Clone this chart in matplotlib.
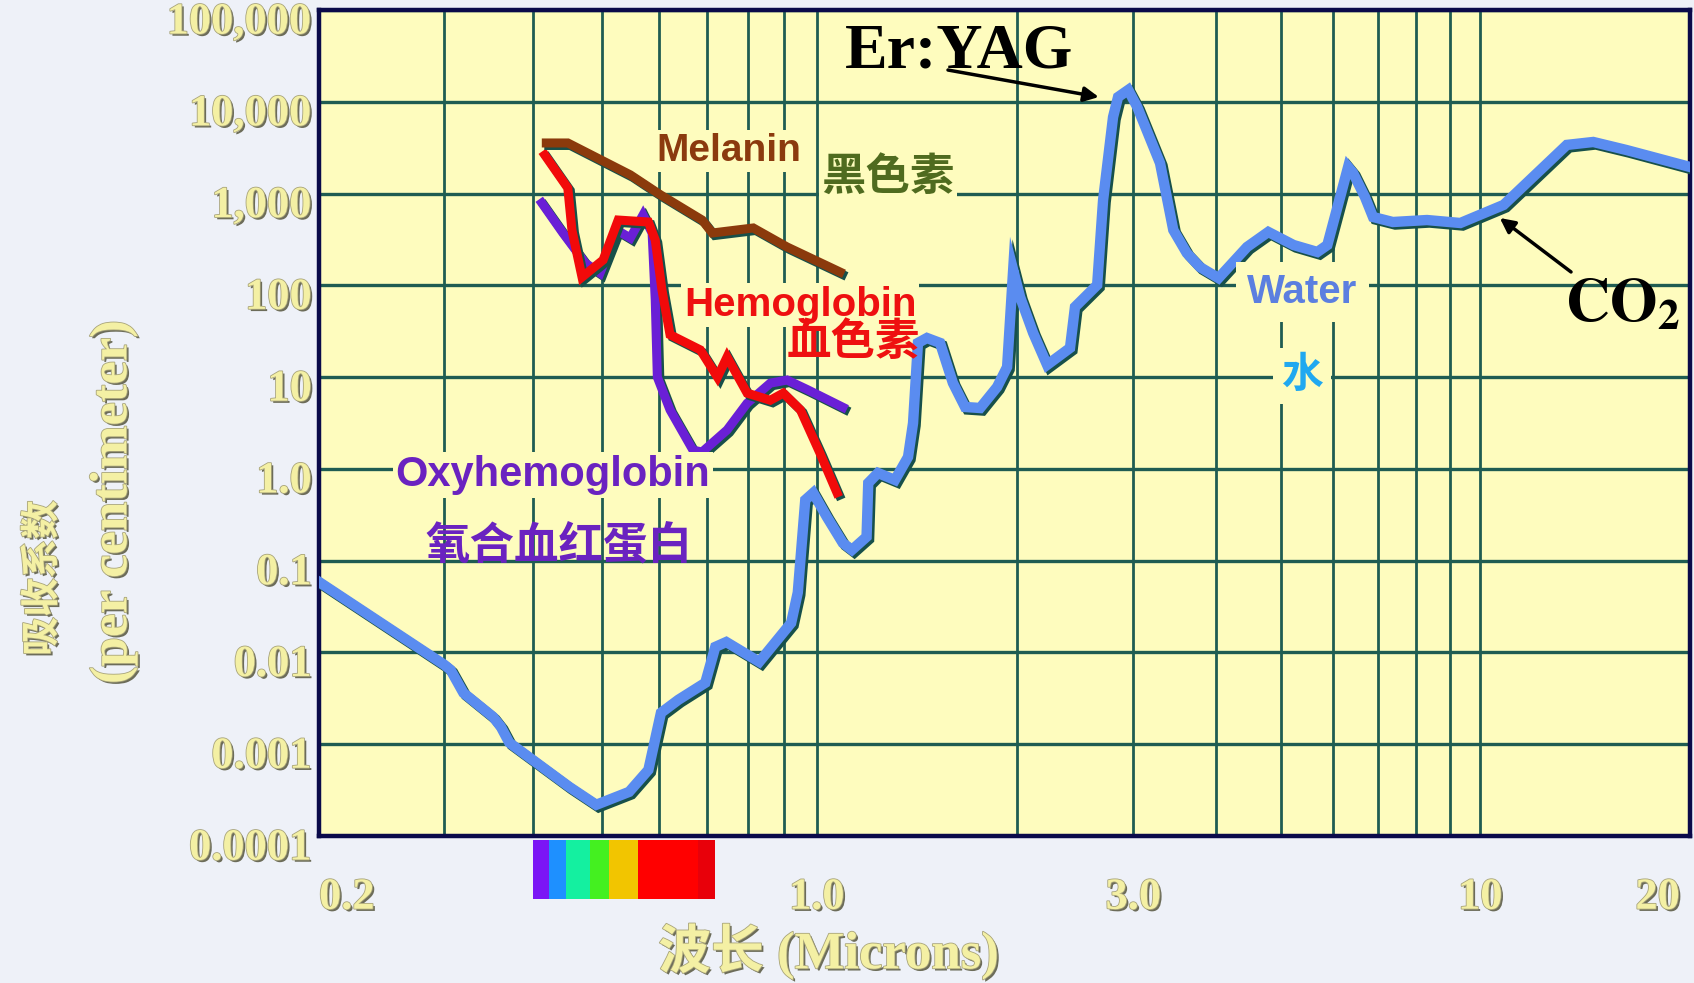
import numpy as np
import matplotlib.pyplot as plt
import matplotlib.patheffects as pe
from matplotlib.transforms import ScaledTranslation

plt.rcParams['mathtext.fontset'] = 'stix'

# absorption coefficient (per cm) vs wavelength (microns)
water_wl = [0.200, 0.300, 0.306, 0.319, 0.351, 0.360, 0.370, 0.449, 0.490, 0.545,
            0.580, 0.604, 0.639, 0.697, 0.720, 0.746, 0.830, 0.920, 0.940, 0.963,
            0.988, 1.035, 1.094, 1.129, 1.188, 1.195, 1.236, 1.311, 1.372, 1.396,
            1.420, 1.465, 1.533, 1.603, 1.672, 1.762, 1.869, 1.935, 1.976, 2.024,
            2.118, 2.223, 2.407, 2.449, 2.645, 2.700, 2.795, 2.844, 2.946, 3.04,
            3.29, 3.445, 3.61, 3.78, 4.03, 4.45, 4.79, 5.23, 5.68, 5.88,
            6.32, 6.43, 6.70, 6.89, 7.38, 8.31, 9.33, 10.84, 13.5, 14.8,
            16.6, 20.7]
water_abs = [0.0587, 0.00733, 0.00646, 0.00363, 0.00199, 0.00155, 0.00104, 0.000344, 0.000219, 0.000303,
             0.000526, 0.0022, 0.00305, 0.00467, 0.0115, 0.0130, 0.0079, 0.021, 0.045, 0.459,
             0.548, 0.300, 0.156, 0.131, 0.182, 0.703, 0.903, 0.758, 1.35, 3.16,
             23.6, 26.7, 23.6, 8.65, 4.73, 4.61, 7.81, 12.9, 147, 74.8,
             30.3, 13.6, 20.8, 58.2, 101, 851, 6820, 11270, 13460, 8770,
             2150, 401, 225, 158, 120, 262, 382, 275, 231, 275,
             1950, 1675, 918, 556, 490, 515, 478, 752, 3390, 3650,
             2985, 1950]

melanin_wl = [0.417, 0.447, 0.547, 0.603, 0.690, 0.713, 0.814, 0.908, 1.083]
melanin_abs = [3560, 3560, 1600, 970, 515, 372, 422, 262, 140]

hemo_wl = [0.415, 0.447, 0.453, 0.468, 0.501, 0.526, 0.580, 0.593, 0.606, 0.622,
           0.686, 0.725, 0.748, 0.798, 0.860, 0.897, 0.948, 1.01, 1.072]
hemo_abs = [2630, 1150, 400, 123, 189, 515, 490, 312, 89, 29,
            19.8, 10, 16.6, 6.7, 5.6, 6.7, 4.4, 1.5, 0.55]

oxy_wl = [0.411, 0.440, 0.473, 0.496, 0.524, 0.547, 0.570, 0.587, 0.593, 0.597,
          0.622, 0.670, 0.690, 0.748, 0.798, 0.860, 0.908, 0.970, 1.094]
oxy_abs = [790, 372, 175, 136, 400, 328, 585, 372, 69, 10,
           4.4, 1.6, 1.53, 2.66, 5.2, 8.6, 9.3, 7.3, 4.7]

# visible spectrum strip under the axis
spec_edges = [0.40, 0.42, 0.445, 0.48, 0.51, 0.56, 0.68, 0.72]
spec_colors = ['#7b16f5', '#1e90ff', '#14f0a0', '#44f020', '#f2c500', '#ff0000', '#e8000a']

x_ticks = [0.2, 1.0, 3.0, 10, 20]
x_ticklabels = ['0.2', '1.0', '3.0', '10', '20']
x_minor = [0.3, 0.4, 0.5, 0.6, 0.7, 0.8, 0.9, 2, 4, 5, 6, 7, 8, 9]
y_ticks = [1e-4, 1e-3, 1e-2, 1e-1, 1, 10, 100, 1e3, 1e4, 1e5]
y_ticklabels = ['0.0001', '0.001', '0.01', '0.1', '1.0', '10', '100', '1,000', '10,000', '100,000']

bg = '#fefcbe'
grid_c = '#1f5c52'
emboss = [pe.SimplePatchShadow(offset=(1.6, -1.6), shadow_rgbFace='#5e5e48', alpha=0.9),
          pe.Stroke(linewidth=1.2, foreground='#a8a47a'), pe.Normal()]
label_c = '#f4f0a4'
serif_cjk = ['Liberation Serif', 'Noto Sans CJK SC']
sans_cjk = ['Liberation Sans', 'Noto Sans CJK SC']

# the printed chart stretches the sub-micron decade a little compared to the others
K = 712 / 663


def fwd(x):
    lx = np.log10(np.clip(x, 1e-9, None))
    return np.where(lx < 0, lx * K, lx)


def inv(u):
    u = np.asarray(u, dtype=float)
    return np.where(u < 0, 10 ** (u / K), 10 ** u)


fig = plt.figure(figsize=(16.94, 9.83), dpi=100, facecolor='#eef1f8')
ax = fig.add_axes([0.1883, 0.1495, 0.8093, 0.8403])
ax.set_facecolor(bg)
ax.set_xscale('function', functions=(fwd, inv))
ax.set_yscale('log')
ax.set_xlim(0.2, 20.7)
ax.set_ylim(1e-4, 1e5)

ax.set_xticks(x_ticks)
ax.set_xticklabels(x_ticklabels)
ax.set_xticks(x_minor, minor=True)
ax.set_xticklabels([], minor=True)
ax.set_yticks(y_ticks)
ax.set_yticklabels(y_ticklabels)
ax.yaxis.set_minor_locator(plt.NullLocator())
ax.tick_params(which='both', length=0)
ax.tick_params(axis='x', pad=30)
ax.tick_params(axis='y', pad=5)
ax.grid(True, which='both', axis='x', color=grid_c, lw=2)
ax.grid(True, which='major', axis='y', color=grid_c, lw=2.4)
ax.set_axisbelow(True)
# no grid line at the 20 label, the frame ends just after it
ax.xaxis.get_major_ticks()[-1].gridline.set_visible(False)
for s in ax.spines.values():
    s.set_color('#0a0a4a')
    s.set_linewidth(3.2)

for lab in ax.get_xticklabels() + ax.get_yticklabels():
    lab.set_fontfamily('Liberation Serif')
    lab.set_fontweight('bold')
    lab.set_fontsize(32)
    lab.set_color(label_c)
    lab.set_path_effects(emboss)
xl = ax.get_xticklabels()
xl[0].set_horizontalalignment('left')
xl[-1].set_horizontalalignment('right')
for lab in ax.get_yticklabels():
    lab.set_transform(lab.get_transform() + ScaledTranslation(0, -8 / 100, fig.dpi_scale_trans))

# spectrum strip
for lo, hi, c in zip(spec_edges[:-1], spec_edges[1:], spec_colors):
    ax.axvspan(lo, hi, ymin=-0.076, ymax=-0.005, color=c, lw=0, clip_on=False)


# curves with dark edge shadow
def curve(x, y, color, lw):
    ax.plot(x, y, color=color, lw=lw, solid_joinstyle='miter', zorder=3,
            path_effects=[pe.SimpleLineShadow(offset=(1.8, -1.8), shadow_color='#17504a', alpha=1),
                          pe.Normal()])


curve(water_wl, water_abs, '#5a8cf0', 7.5)
curve(oxy_wl, oxy_abs, '#6a1fd6', 6.5)
curve(hemo_wl, hemo_abs, '#f20a0a', 6.5)
curve(melanin_wl, melanin_abs, '#8b3a0c', 6.5)

box = dict(facecolor=bg, edgecolor='none', pad=2)
ax.text(0.753, 2910, 'Melanin', color='#8b3a0e', fontsize=28, fontweight='bold',
        family=sans_cjk, ha='center', va='center', bbox=box, zorder=4)
ax.text(1.28, 1480, '黑色素', color='#4f6b1f', fontsize=32, fontweight='bold',
        family=sans_cjk, ha='center', va='center', bbox=box, zorder=4)
ax.text(0.948, 61, 'Hemoglobin', color='#ee1010', fontsize=29, fontweight='bold',
        family=sans_cjk, ha='center', va='center', bbox=box, zorder=4)
ax.text(1.133, 23.6, '血色素', color='#ee1010', fontsize=32, fontweight='bold',
        family=sans_cjk, ha='center', va='center', zorder=4)
ax.text(0.426, 0.86, 'Oxyhemoglobin', color='#6a22c0', fontsize=30, fontweight='bold',
        family=sans_cjk, ha='center', va='center', bbox=box, zorder=4)
ax.text(0.435, 0.145, '氧合血红蛋白', color='#6a22c0', fontsize=32, fontweight='bold',
        family=sans_cjk, ha='center', va='center', zorder=4)
ax.text(5.39, 84.7, 'Water', color='#5b7fe0', fontsize=29, fontweight='bold',
        family=sans_cjk, ha='center', va='center', bbox=dict(facecolor=bg, edgecolor='none', pad=8), zorder=4)
ax.text(5.39, 10.3, '水', color='#20a8f0', fontsize=30, fontweight='bold',
        family=sans_cjk, ha='center', va='center', bbox=dict(facecolor=bg, edgecolor='none', pad=6), zorder=4)

# laser annotations
arrow = dict(arrowstyle='-|>', color='black', lw=2.5, mutation_scale=22, shrinkA=0, shrinkB=0)
ax.annotate('', xy=(2.66, 11270), xytext=(1.576, 22200), arrowprops=arrow, zorder=5)
ax.text(1.637, 34800, 'Er:YAG', color='black', fontsize=46, fontweight='bold',
        family='Liberation Serif', ha='center', va='center', zorder=5)
ax.annotate('', xy=(10.7, 542), xytext=(13.7, 140), arrowprops=arrow, zorder=5)
ax.text(16.4, 61, r'$\mathbf{CO_2}$', color='black', fontsize=44,
        ha='center', va='center', zorder=5)

# axis titles
fig.text(0.489, 0.032, '波长 (Microns)', color=label_c, fontsize=38, fontweight='bold',
         family=serif_cjk, ha='center', va='center', path_effects=emboss)
fig.text(0.026, 0.412, '吸收系数', color=label_c, fontsize=28, fontweight='bold',
         family=serif_cjk, ha='center', va='center', rotation=90, path_effects=emboss)
fig.text(0.067, 0.489, '(per centimeter)', color=label_c, fontsize=38, fontweight='bold',
         family='Liberation Serif', ha='center', va='center', rotation=90, path_effects=emboss)

fig.savefig('out.png', dpi=100, facecolor=fig.get_facecolor())
